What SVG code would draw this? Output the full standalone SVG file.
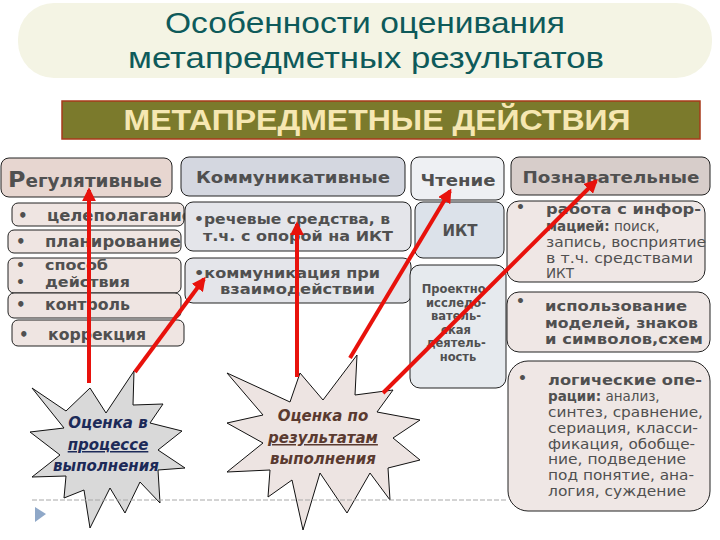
<svg xmlns="http://www.w3.org/2000/svg" width="720" height="540" viewBox="0 0 720 540">
<defs>
<style>
.box{stroke:#222;stroke-width:1}
.t{font-family:"DejaVu Sans",Verdana,sans-serif;font-weight:bold;fill:#505050}
.n{font-family:"DejaVu Sans",Verdana,sans-serif;font-weight:normal;fill:#505050}
.arr{stroke:#e8120c;stroke-width:4;fill:none;marker-end:url(#ah)}
.star{stroke:#111;stroke-width:1}
.st{font-family:"DejaVu Sans",Verdana,sans-serif;font-weight:bold;font-style:italic;font-size:15px;text-anchor:middle}
</style>
<marker id="ah" viewBox="0 0 10 10" refX="8" refY="5" markerWidth="3.5" markerHeight="3.5" orient="auto" markerUnits="strokeWidth">
<path d="M0,0 L10,5 L0,10 z" fill="#e8120c"/>
</marker>
</defs>
<rect width="720" height="540" fill="#ffffff"/>

<g id="title">
<rect x="18" y="3" width="694" height="75" rx="36" fill="#f4f4e4"/>
<text x="365" y="33" font-family="Liberation Sans,Arial,sans-serif" font-size="29" fill="#0e5a5a" text-anchor="middle" textLength="400" lengthAdjust="spacingAndGlyphs">Особенности оценивания</text>
<text x="366" y="68" font-family="Liberation Sans,Arial,sans-serif" font-size="29" fill="#0e5a5a" text-anchor="middle" textLength="476" lengthAdjust="spacingAndGlyphs">метапредметных результатов</text>
</g>

<g id="banner">
<rect x="62" y="101" width="638" height="38" fill="#7b7a2c" stroke="#a83a1a" stroke-width="1.5"/>
<text x="377" y="130" font-family="Liberation Sans,Arial,sans-serif" font-weight="bold" font-size="29" fill="#f6e7b2" text-anchor="middle" textLength="507" lengthAdjust="spacingAndGlyphs">МЕТАПРЕДМЕТНЫЕ ДЕЙСТВИЯ</text>
</g>

<g id="reg-header">
<rect class="box" x="1" y="158" width="171" height="39" rx="8" fill="#e7d6d0"/>
<text class="t" x="8" y="187" font-size="17" textLength="154" lengthAdjust="spacingAndGlyphs"><tspan font-size="22">Р</tspan>егулятивные</text>
</g>

<g id="reg-items">
<rect class="box" x="12" y="203" width="172" height="23" rx="6" fill="#efe5e2"/>
<text class="t" x="18" y="221" font-size="15">•</text>
<text class="t" x="47" y="221" font-size="15" textLength="146" lengthAdjust="spacingAndGlyphs">целеполагание</text>
<rect class="box" x="8" y="230" width="173" height="23" rx="6" fill="#efe5e2"/>
<text class="t" x="16" y="247" font-size="15">•</text>
<text class="t" x="45" y="247" font-size="15" textLength="136" lengthAdjust="spacingAndGlyphs">планирование</text>
<rect class="box" x="8" y="258" width="173" height="35" rx="6" fill="#efe5e2"/>
<text class="t" x="16" y="270" font-size="14">•</text>
<text class="t" x="45" y="270" font-size="14" textLength="63" lengthAdjust="spacingAndGlyphs">способ</text>
<text class="t" x="16" y="287" font-size="14">•</text>
<text class="t" x="45" y="287" font-size="14" textLength="85" lengthAdjust="spacingAndGlyphs">действия</text>
<rect class="box" x="8" y="293" width="173" height="25" rx="6" fill="#efe5e2"/>
<text class="t" x="16" y="310" font-size="15">•</text>
<text class="t" x="45" y="310" font-size="15" textLength="85" lengthAdjust="spacingAndGlyphs">контроль</text>
<rect class="box" x="12" y="320" width="172" height="26" rx="6" fill="#efe5e2"/>
<text class="t" x="19" y="340" font-size="15">•</text>
<text class="t" x="48" y="340" font-size="15" textLength="98" lengthAdjust="spacingAndGlyphs">коррекция</text>
</g>

<g id="comm-header">
<rect class="box" x="181" y="157" width="224" height="39" rx="8" fill="#d4d7e0"/>
<text class="t" x="293" y="183" font-size="16" text-anchor="middle" textLength="194" lengthAdjust="spacingAndGlyphs">Коммуникативные</text>
</g>

<g id="comm-items">
<rect class="box" x="185" y="202" width="226" height="49" rx="8" fill="#e4e5ea"/>
<text class="t" x="194" y="224" font-size="14.5" textLength="196" lengthAdjust="spacingAndGlyphs">•речевые средства, в</text>
<text class="t" x="203" y="241" font-size="14.5" textLength="190" lengthAdjust="spacingAndGlyphs">т.ч. с опорой на ИКТ</text>
<rect class="box" x="185" y="258" width="226" height="45" rx="8" fill="#e4e5ea"/>
<text class="t" x="194" y="278" font-size="14.5" textLength="186" lengthAdjust="spacingAndGlyphs">•коммуникация при</text>
<text class="t" x="220" y="294" font-size="14.5" textLength="155" lengthAdjust="spacingAndGlyphs">взаимодействии</text>
</g>

<g id="reading-header">
<rect class="box" x="411" y="157" width="93" height="43" rx="8" fill="#eef0f3"/>
<text class="t" x="458" y="186" font-size="16" text-anchor="middle" textLength="75" lengthAdjust="spacingAndGlyphs">Чтение</text>
</g>

<g id="ikt">
<rect class="box" x="415" y="202" width="89" height="56" rx="8" fill="#dce2ea"/>
<text class="t" x="460" y="236" font-size="15" text-anchor="middle">ИКТ</text>
</g>

<g id="project">
<rect class="box" x="410" y="265" width="96" height="123" rx="10" fill="#e6eaee"/>
<text class="t" font-size="11.5" text-anchor="middle">
<tspan x="458" y="293">Проектно-</tspan>
<tspan x="458" y="307">исследо-</tspan>
<tspan x="458" y="320">ватель-</tspan>
<tspan x="458" y="334">ская</tspan>
<tspan x="458" y="347">деятель-</tspan>
<tspan x="458" y="361">ность</tspan>
</text>
</g>

<g id="cog-header">
<rect class="box" x="511" y="157" width="199" height="38" rx="8" fill="#d7cdca"/>
<text class="t" x="611" y="183" font-size="16" text-anchor="middle" textLength="177" lengthAdjust="spacingAndGlyphs">Познавательные</text>
</g>

<g id="cog-item1">
<rect class="box" x="507" y="201" width="198" height="81" rx="12" fill="#efe7e5"/>
<text class="t" x="516" y="212" font-size="14">•</text>
<text class="t" x="546" y="214" font-size="13.5" textLength="155" lengthAdjust="spacingAndGlyphs">работа с инфор-</text>
<text x="546" y="231"><tspan class="t" font-size="13.5">мацией:</tspan><tspan class="n" font-size="13.5"> поиск,</tspan></text>
<text class="n" x="546" y="247" font-size="13.5" textLength="160" lengthAdjust="spacingAndGlyphs">запись, восприятие</text>
<text class="n" x="546" y="263" font-size="13.5" textLength="147" lengthAdjust="spacingAndGlyphs">в т.ч. средствами</text>
<text class="n" x="546" y="278" font-size="13.5">ИКТ</text>
</g>

<g id="cog-item2">
<rect class="box" x="507" y="292" width="203" height="60" rx="12" fill="#efe7e5"/>
<text class="t" x="516" y="306" font-size="14">•</text>
<text class="t" x="545" y="311" font-size="14" textLength="142" lengthAdjust="spacingAndGlyphs">использование</text>
<text class="t" x="545" y="328" font-size="14" textLength="153" lengthAdjust="spacingAndGlyphs">моделей, знаков</text>
<text class="t" x="545" y="344" font-size="14" textLength="158" lengthAdjust="spacingAndGlyphs">и символов,схем</text>
</g>

<g id="cog-item3">
<rect class="box" x="508" y="361" width="202" height="150" rx="20" fill="#efe7e5"/>
<text class="t" x="518" y="383" font-size="14">•</text>
<text class="t" x="548" y="385" font-size="13.5" textLength="154" lengthAdjust="spacingAndGlyphs">логические опе-</text>
<text x="548" y="401"><tspan class="t" font-size="13.5">рации:</tspan><tspan class="n" font-size="13.5"> анализ,</tspan></text>
<text class="n" x="548" y="417" font-size="13.5" textLength="155" lengthAdjust="spacingAndGlyphs">синтез, сравнение,</text>
<text class="n" x="548" y="433" font-size="13.5" textLength="150" lengthAdjust="spacingAndGlyphs">сериация, класси-</text>
<text class="n" x="548" y="449" font-size="13.5" textLength="147" lengthAdjust="spacingAndGlyphs">фикация, обобще-</text>
<text class="n" x="548" y="464" font-size="13.5" textLength="138" lengthAdjust="spacingAndGlyphs">ние, подведение</text>
<text class="n" x="548" y="480" font-size="13.5" textLength="146" lengthAdjust="spacingAndGlyphs">под понятие, ана-</text>
<text class="n" x="548" y="496" font-size="13.5" textLength="138" lengthAdjust="spacingAndGlyphs">логия, суждение</text>
</g>

<g id="star-process">
<polygon class="star" fill="#d9d9d9" points="32,388 66,411 90,388 106,413 134,371 133,405 163,404 150,423 182,431 158,450 185,468 158,470 160,503 140,482 125,513 110,488 90,528 84,490 64,498 66,476 32,477 60,455 30,432 64,428"/>
<text class="st" fill="#1c2a58"><tspan x="108" y="428">Оценка в</tspan><tspan x="108" y="450" text-decoration="underline">процессе</tspan><tspan x="106" y="471">выполнения</tspan></text>
</g>

<g id="star-result">
<polygon class="star" fill="#ede4e2" points="227,373 290,402 300,373 323,400 357,355 355,395 393,390 377,412 420,420 393,438 420,460 388,468 390,500 370,473 347,513 320,473 303,530 292,480 268,497 270,470 227,472 263,443 227,423 263,415"/>
<text class="st" fill="#5a3a30"><tspan x="323" y="421">Оценка по</tspan><tspan x="323" y="443" text-decoration="underline">результатам</tspan><tspan x="323" y="464">выполнения</tspan></text>
</g>

<g id="footer">
<line x1="32" y1="500" x2="508" y2="500" stroke="#a8a8a8" stroke-width="1" stroke-dasharray="5,2"/>
<polygon points="35,507 46,514 35,522" fill="#8fa8c8"/>
</g>

<g id="connectors">
<line class="arr" x1="89" y1="383" x2="89" y2="190"/>
<line class="arr" x1="135" y1="372" x2="204" y2="279"/>
<line class="arr" x1="297" y1="377" x2="297" y2="224"/>
<line class="arr" x1="350" y1="358" x2="450" y2="191"/>
<line class="arr" x1="383" y1="393" x2="596" y2="181"/>
</g>
</svg>
